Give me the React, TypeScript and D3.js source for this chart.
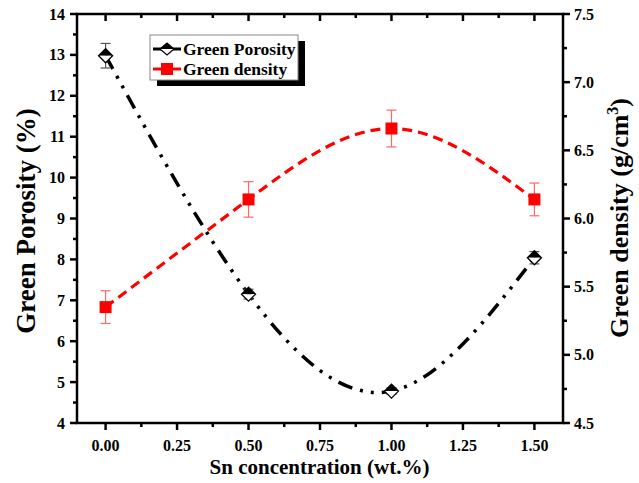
import React from "react";
import * as d3 from "d3";

const xValues = [0, 0.5, 1.0, 1.5];
const porosity = [12.98, 7.15, 4.78, 8.04];
const porosityErr = [0.3, 0.12, 0.08, 0.15];
const density = [5.35, 6.14, 6.66, 6.14];
const densityErr = [0.12, 0.13, 0.135, 0.12];
const xTicks = [0, 0.25, 0.5, 0.75, 1.0, 1.25, 1.5];
const leftTicks = [4, 5, 6, 7, 8, 9, 10, 11, 12, 13, 14];
const rightTicks = [4.5, 5.0, 5.5, 6.0, 6.5, 7.0, 7.5];

const W = 639, H = 483;
const L = 77, R = 563, T = 14, B = 423;
const FONT = "'Liberation Serif', 'Times New Roman', serif";

export default function App() {
  const x = d3.scaleLinear().domain([-0.1, 1.6]).range([L, R]);
  const yL = d3.scaleLinear().domain([4, 14]).range([B, T]);
  const yR = d3.scaleLinear().domain([4.5, 7.5]).range([B, T]);

  const porLine = d3.line<number>().x((d, i) => x(xValues[i])).y(d => yL(d)).curve(d3.curveNatural);
  const denLine = d3.line<number>().x((d, i) => x(xValues[i])).y(d => yR(d)).curve(d3.curveNatural);

  const xMinor = d3.range(-0.125 + 0.25, 1.6, 0.125).filter(v => Math.abs(v / 0.25 - Math.round(v / 0.25)) > 0.01);
  const leftMinor = d3.range(4.5, 14, 1);
  const rightMinor = d3.range(4.75, 7.5, 0.5);

  const ds = 7; // diamond half-size
  const sq = 6;

  return (
    <svg width={W} height={H} style={{ position: "absolute", left: 0, top: 0, background: "#fff" }}>
      {/* density curve */}
      <path d={denLine(density) || ""} fill="none" stroke="#ff0000" strokeWidth={3.2} strokeDasharray="10 6" />
      {/* porosity curve */}
      <path d={porLine(porosity) || ""} fill="none" stroke="#000" strokeWidth={3.5} strokeDasharray="15 8 3 8 3 8" />

      {/* density error bars and markers */}
      {xValues.map((xv, i) => {
        const cx = x(xv);
        const y1 = yR(density[i] + densityErr[i]);
        const y2 = yR(density[i] - densityErr[i]);
        return (
          <g key={"d" + i}>
            <line x1={cx} x2={cx} y1={y1} y2={y2} stroke="#ff6666" strokeWidth={1.2} />
            <line x1={cx - 5} x2={cx + 5} y1={y1} y2={y1} stroke="#ff6666" strokeWidth={1.2} />
            <line x1={cx - 5} x2={cx + 5} y1={y2} y2={y2} stroke="#ff6666" strokeWidth={1.2} />
            <rect x={cx - sq} y={yR(density[i]) - sq} width={sq * 2} height={sq * 2} fill="#ff0000" />
          </g>
        );
      })}

      {/* porosity error bars and markers */}
      {xValues.map((xv, i) => {
        const cx = x(xv);
        const cy = yL(porosity[i]);
        const y1 = yL(porosity[i] + porosityErr[i]);
        const y2 = yL(porosity[i] - porosityErr[i]);
        return (
          <g key={"p" + i}>
            <line x1={cx} x2={cx} y1={y1} y2={y2} stroke="#555" strokeWidth={1.2} />
            <line x1={cx - 5} x2={cx + 5} y1={y1} y2={y1} stroke="#555" strokeWidth={1.2} />
            <line x1={cx - 5} x2={cx + 5} y1={y2} y2={y2} stroke="#555" strokeWidth={1.2} />
            <path d={`M${cx - ds},${cy} L${cx},${cy - ds} L${cx + ds},${cy} Z`} fill="#000" />
            <path d={`M${cx - ds},${cy} L${cx},${cy + ds} L${cx + ds},${cy} Z`} fill="#fff" />
            <path d={`M${cx - ds},${cy} L${cx},${cy - ds} L${cx + ds},${cy} L${cx},${cy + ds} Z`} fill="none" stroke="#000" strokeWidth={1.3} />
          </g>
        );
      })}

      {/* frame */}
      <rect x={L} y={T} width={R - L} height={B - T} fill="none" stroke="#000" strokeWidth={2.5} />

      {/* bottom axis ticks */}
      {xTicks.map(t => (
        <g key={"xt" + t}>
          <line x1={x(t)} x2={x(t)} y1={B} y2={B + 7} stroke="#000" strokeWidth={2.5} />
          <line x1={x(t)} x2={x(t)} y1={T} y2={T + 7} stroke="#000" strokeWidth={2.5} />
          <text x={x(t)} y={B + 28} textAnchor="middle" fontFamily={FONT} fontWeight="bold" fontSize={16}>{t.toFixed(2)}</text>
        </g>
      ))}
      {xMinor.map(t => (
        <g key={"xm" + t}>
          <line x1={x(t)} x2={x(t)} y1={B} y2={B + 4} stroke="#000" strokeWidth={2.5} />
          <line x1={x(t)} x2={x(t)} y1={T} y2={T + 4} stroke="#000" strokeWidth={2.5} />
        </g>
      ))}

      {/* left axis */}
      {leftTicks.map(t => (
        <g key={"lt" + t}>
          <line x1={L - 7} x2={L} y1={yL(t)} y2={yL(t)} stroke="#000" strokeWidth={2.5} />
          <text x={L - 12} y={yL(t) + 5.5} textAnchor="end" fontFamily={FONT} fontWeight="bold" fontSize={16}>{t}</text>
        </g>
      ))}
      {leftMinor.map(t => (
        <line key={"lm" + t} x1={L - 4} x2={L} y1={yL(t)} y2={yL(t)} stroke="#000" strokeWidth={2.5} />
      ))}

      {/* right axis */}
      {rightTicks.map(t => (
        <g key={"rt" + t}>
          <line x1={R} x2={R + 7} y1={yR(t)} y2={yR(t)} stroke="#000" strokeWidth={2.5} />
          <text x={R + 11} y={yR(t) + 5.5} textAnchor="start" fontFamily={FONT} fontWeight="bold" fontSize={16}>{t.toFixed(1)}</text>
        </g>
      ))}
      {rightMinor.map(t => (
        <line key={"rm" + t} x1={R} x2={R + 4} y1={yR(t)} y2={yR(t)} stroke="#000" strokeWidth={2.5} />
      ))}

      {/* axis titles */}
      <text x={W / 2} y={474} textAnchor="middle" fontFamily={FONT} fontWeight="bold" fontSize={21}>Sn concentration (wt.%)</text>
      <text transform={`translate(35,221) rotate(-90)`} textAnchor="middle" fontFamily={FONT} fontWeight="bold" fontSize={27}>Green Porosity (%)</text>
      <text transform={`translate(628,218) rotate(-90)`} textAnchor="middle" fontFamily={FONT} fontWeight="bold" fontSize={26}>
        Green density (g/cm<tspan dy={-10} fontSize={16}>3</tspan><tspan dy={10}>)</tspan>
      </text>

      {/* legend */}
      <rect x={157} y={41} width={148} height={45} fill="#000" />
      <rect x={150} y={35} width={148} height={45} fill="#fff" stroke="#888" strokeWidth={1} />
      <line x1={153} x2={181} y1={49} y2={49} stroke="#000" strokeWidth={3} />
      <path d="M160,49 L167,43 L174,49 Z" fill="#000" />
      <path d="M160,49 L167,55 L174,49 Z" fill="#fff" />
      <path d="M160,49 L167,43 L174,49 L167,55 Z" fill="none" stroke="#000" strokeWidth={1.2} />
      <text x={183} y={55} fontFamily={FONT} fontWeight="bold" fontSize={17.5}>Green Porosity</text>
      <line x1={153} x2={181} y1={69} y2={69} stroke="#ff0000" strokeWidth={3} />
      <rect x={161} y={63} width={12} height={12} fill="#ff0000" />
      <text x={183} y={75} fontFamily={FONT} fontWeight="bold" fontSize={17.5}>Green density</text>
    </svg>
  );
}
